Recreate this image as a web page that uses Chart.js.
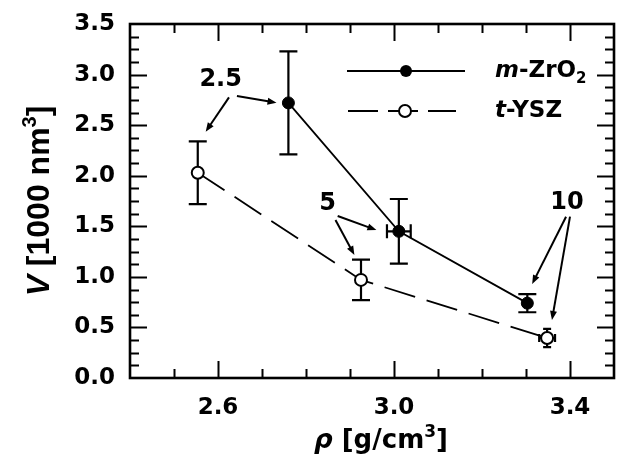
<!DOCTYPE html>
<html>
<head>
<meta charset="utf-8">
<script src="https://cdn.jsdelivr.net/npm/chart.js@4.4.1/dist/chart.umd.min.js"></script>
<style>
  body { margin: 0; background: #fff; }
  #wrap { width: 622px; height: 463px; }
</style>
</head>
<body>
<div id="wrap"><canvas id="chart"></canvas></div>
<script>
// density (g/cm3) vs volume (1000 nm3), with error bars
const mZrO2Density = [2.76, 3.011, 3.303];
const mZrO2Volume = [2.72, 1.45, 0.74];
const mZrO2VolErr = [0.51, 0.32, 0.09];
const mZrO2DensErr = [0, 0.027, 0];

const tYSZDensity = [2.554, 2.925, 3.348];
const tYSZVolume = [2.03, 0.97, 0.395];
const tYSZVolErr = [0.31, 0.2, 0.09];
const tYSZDensErr = [0, 0, 0.018];

const xMajorTicks = [2.6, 3.0, 3.4];
const yMajorTicks = [0, 0.5, 1.0, 1.5, 2.0, 2.5, 3.0, 3.5];

// the numbers pointing at the points, and their arrows (data units)
const noteLabels = ['2.5', '5', '10'];
const noteTextPos = [[2.606, 2.946], [2.849, 1.72], [3.393, 1.735]];
const noteArrows = [
  [[2.643, 2.788, 2.733, 2.722], [2.625, 2.775, 2.572, 2.435]],
  [[2.872, 1.602, 2.960, 1.463], [2.867, 1.562, 2.910, 1.216]],
  [[3.391, 1.595, 3.314, 0.929], [3.400, 1.595, 3.359, 0.573]]
];

const FONT = '"DejaVu Sans"';

function toPoints(xs, ys) {
  return xs.map((v, i) => ({ x: v, y: ys[i] }));
}

function drawErrBars(ctx, sx, sy, xs, ys, xe, ye) {
  for (let i = 0; i < xs.length; i++) {
    const px = sx.getPixelForValue(xs[i]);
    const py = sy.getPixelForValue(ys[i]);
    // small caps when there is also an x bar (gives the little star look)
    const cap = xe[i] > 0 && ye[i] > 0 && ye[i] < 0.15 ? 4 : 9;
    if (ye[i] > 0) {
      const top = sy.getPixelForValue(ys[i] + ye[i]);
      const bot = sy.getPixelForValue(ys[i] - ye[i]);
      ctx.beginPath();
      ctx.moveTo(px, top); ctx.lineTo(px, bot);
      ctx.moveTo(px - cap, top); ctx.lineTo(px + cap, top);
      ctx.moveTo(px - cap, bot); ctx.lineTo(px + cap, bot);
      ctx.stroke();
    }
    if (xe[i] > 0) {
      const l = sx.getPixelForValue(xs[i] - xe[i]);
      const r = sx.getPixelForValue(xs[i] + xe[i]);
      const h = cap === 4 ? 4 : 7;
      ctx.beginPath();
      ctx.moveTo(l, py); ctx.lineTo(r, py);
      ctx.moveTo(l, py - h); ctx.lineTo(l, py + h);
      ctx.moveTo(r, py - h); ctx.lineTo(r, py + h);
      ctx.stroke();
    }
  }
}

// draws text made of pieces with different fonts; align 'center' or 'left'
function drawRich(ctx, parts, x, y, align) {
  let total = 0;
  parts.forEach(p => { ctx.font = p.font; total += ctx.measureText(p.t).width; });
  let cx = align === 'center' ? x - total / 2 : x;
  ctx.textAlign = 'left';
  ctx.textBaseline = 'alphabetic';
  parts.forEach(p => {
    ctx.font = p.font;
    ctx.fillText(p.t, cx, y + (p.dy || 0));
    cx += ctx.measureText(p.t).width;
  });
}

function arrow(ctx, x1, y1, x2, y2) {
  const ang = Math.atan2(y2 - y1, x2 - x1);
  const len = 9, half = 3.5;
  ctx.beginPath();
  ctx.moveTo(x1, y1);
  ctx.lineTo(x2 - Math.cos(ang) * len * 0.8, y2 - Math.sin(ang) * len * 0.8);
  ctx.stroke();
  ctx.beginPath();
  ctx.moveTo(x2, y2);
  ctx.lineTo(x2 - Math.cos(ang) * len - Math.sin(ang) * half, y2 - Math.sin(ang) * len + Math.cos(ang) * half);
  ctx.lineTo(x2 - Math.cos(ang) * len + Math.sin(ang) * half, y2 - Math.sin(ang) * len - Math.cos(ang) * half);
  ctx.closePath();
  ctx.fill();
}

const decorations = {
  id: 'decorations',
  beforeDatasetsDraw(chart) {
    const { ctx, scales: { x, y } } = chart;
    ctx.save();
    ctx.strokeStyle = '#000';
    ctx.lineWidth = 2.2;
    drawErrBars(ctx, x, y, mZrO2Density, mZrO2Volume, mZrO2DensErr, mZrO2VolErr);
    drawErrBars(ctx, x, y, tYSZDensity, tYSZVolume, tYSZDensErr, tYSZVolErr);
    ctx.restore();
  },
  afterDatasetsDraw(chart) {
    const { ctx, chartArea: a, scales: { x, y } } = chart;
    ctx.save();
    ctx.strokeStyle = '#000';
    ctx.fillStyle = '#000';

    // ticks on all four sides, pointing in
    ctx.lineWidth = 2;
    ctx.beginPath();
    for (let v = 2.5; v < 3.45; v += 0.1) {
      const major = xMajorTicks.some(m => Math.abs(m - v) < 1e-6);
      const len = major ? 17 : 9;
      const px = Math.round(x.getPixelForValue(v)) + 0.5;
      ctx.moveTo(px, a.bottom); ctx.lineTo(px, a.bottom - len);
      ctx.moveTo(px, a.top); ctx.lineTo(px, a.top + len);
    }
    for (let v = 0.125; v < 3.45; v += 0.125) {
      const major = yMajorTicks.some(m => Math.abs(m - v) < 1e-6);
      const len = major ? 17 : 9;
      const py = Math.round(y.getPixelForValue(v)) + 0.5;
      ctx.moveTo(a.left, py); ctx.lineTo(a.left + len, py);
      ctx.moveTo(a.right, py); ctx.lineTo(a.right - len, py);
    }
    ctx.stroke();

    // frame
    ctx.lineWidth = 2.6;
    ctx.strokeRect(a.left, a.top, a.right - a.left, a.bottom - a.top);

    // notes and arrows
    ctx.font = 'bold 24px ' + FONT;
    ctx.textAlign = 'center';
    ctx.textBaseline = 'middle';
    noteLabels.forEach((t, i) => {
      ctx.fillText(t, x.getPixelForValue(noteTextPos[i][0]), y.getPixelForValue(noteTextPos[i][1]));
    });
    ctx.lineWidth = 2;
    noteArrows.forEach(group => group.forEach(r => {
      arrow(ctx, x.getPixelForValue(r[0]), y.getPixelForValue(r[1]),
        x.getPixelForValue(r[2]), y.getPixelForValue(r[3]));
    }));

    // legend
    ctx.lineWidth = 1.8;
    ctx.beginPath();
    ctx.moveTo(347, 71); ctx.lineTo(465, 71);
    ctx.stroke();
    ctx.beginPath();
    ctx.arc(406, 71, 6, 0, Math.PI * 2);
    ctx.fill();
    ctx.setLineDash([30, 10]);
    ctx.beginPath();
    ctx.moveTo(348, 111); ctx.lineTo(456, 111);
    ctx.stroke();
    ctx.setLineDash([]);
    ctx.beginPath();
    ctx.arc(405, 111, 6, 0, Math.PI * 2);
    ctx.fillStyle = '#fff';
    ctx.fill();
    ctx.lineWidth = 2;
    ctx.stroke();
    ctx.fillStyle = '#000';
    drawRich(ctx, [
      { t: 'm', font: 'oblique bold 23px ' + FONT },
      { t: '-ZrO', font: 'bold 23px ' + FONT },
      { t: '2', font: 'bold 15px ' + FONT, dy: 6 }
    ], 495, 77, 'left');
    drawRich(ctx, [
      { t: 't', font: 'oblique bold 23px ' + FONT },
      { t: '-YSZ', font: 'bold 23px ' + FONT }
    ], 495, 117, 'left');

    // axis titles
    drawRich(ctx, [
      { t: 'ρ', font: 'oblique bold 26px ' + FONT },
      { t: ' [g/cm', font: 'bold 26px ' + FONT },
      { t: '3', font: 'bold 17px ' + FONT, dy: -11 },
      { t: ']', font: 'bold 26px ' + FONT }
    ], 381, 448, 'center');

    ctx.translate(49, (a.top + a.bottom) / 2);
    ctx.rotate(-Math.PI / 2);
    drawRich(ctx, [
      { t: 'V', font: 'italic bold 32px "Liberation Sans"' },
      { t: ' [1000 nm', font: 'bold 32px "Liberation Sans"' },
      { t: '3', font: 'bold 20px "Liberation Sans"', dy: -13 },
      { t: ']', font: 'bold 32px "Liberation Sans"' }
    ], 0, 0, 'center');
    ctx.restore();
  }
};

new Chart(document.getElementById('chart'), {
  type: 'scatter',
  data: {
    datasets: [{
      label: 'm-ZrO2',
      data: toPoints(mZrO2Density, mZrO2Volume),
      showLine: true,
      borderColor: '#000',
      borderWidth: 1.8,
      pointRadius: 6,
      pointBackgroundColor: '#000',
      pointBorderColor: '#000',
      pointBorderWidth: 1
    }, {
      label: 't-YSZ',
      data: toPoints(tYSZDensity, tYSZVolume),
      showLine: true,
      borderColor: '#000',
      borderWidth: 1.8,
      borderDash: [32, 12],
      pointRadius: 6,
      pointBackgroundColor: '#fff',
      pointBorderColor: '#000',
      pointBorderWidth: 2
    }]
  },
  options: {
    responsive: true,
    maintainAspectRatio: false,
    animation: false,
    events: [],
    layout: { padding: { top: 24, right: 1, left: 0, bottom: 0 } },
    plugins: { legend: { display: false }, tooltip: { enabled: false } },
    scales: {
      x: {
        type: 'linear',
        min: 2.4,
        max: 3.5,
        afterFit: s => { s.height = 85; s.paddingLeft = 0; s.paddingRight = 0; },
        grid: { display: false, drawTicks: false },
        border: { display: false },
        ticks: {
          stepSize: 0.1,
          autoSkip: false,
          maxRotation: 0,
          padding: 16,
          color: '#000',
          font: { family: 'DejaVu Sans', size: 23, weight: 'bold' },
          callback: v => xMajorTicks.some(m => Math.abs(m - v) < 1e-6) ? v.toFixed(1) : ''
        }
      },
      y: {
        type: 'linear',
        min: 0,
        max: 3.5,
        afterFit: s => { s.width = 130; s.paddingTop = 0; s.paddingBottom = 0; },
        grid: { display: false, drawTicks: false },
        border: { display: false },
        ticks: {
          stepSize: 0.5,
          padding: 15,
          color: '#000',
          font: { family: 'DejaVu Sans', size: 23, weight: 'bold' },
          callback: v => v.toFixed(1)
        }
      }
    }
  },
  plugins: [decorations]
});
</script>
</body>
</html>
